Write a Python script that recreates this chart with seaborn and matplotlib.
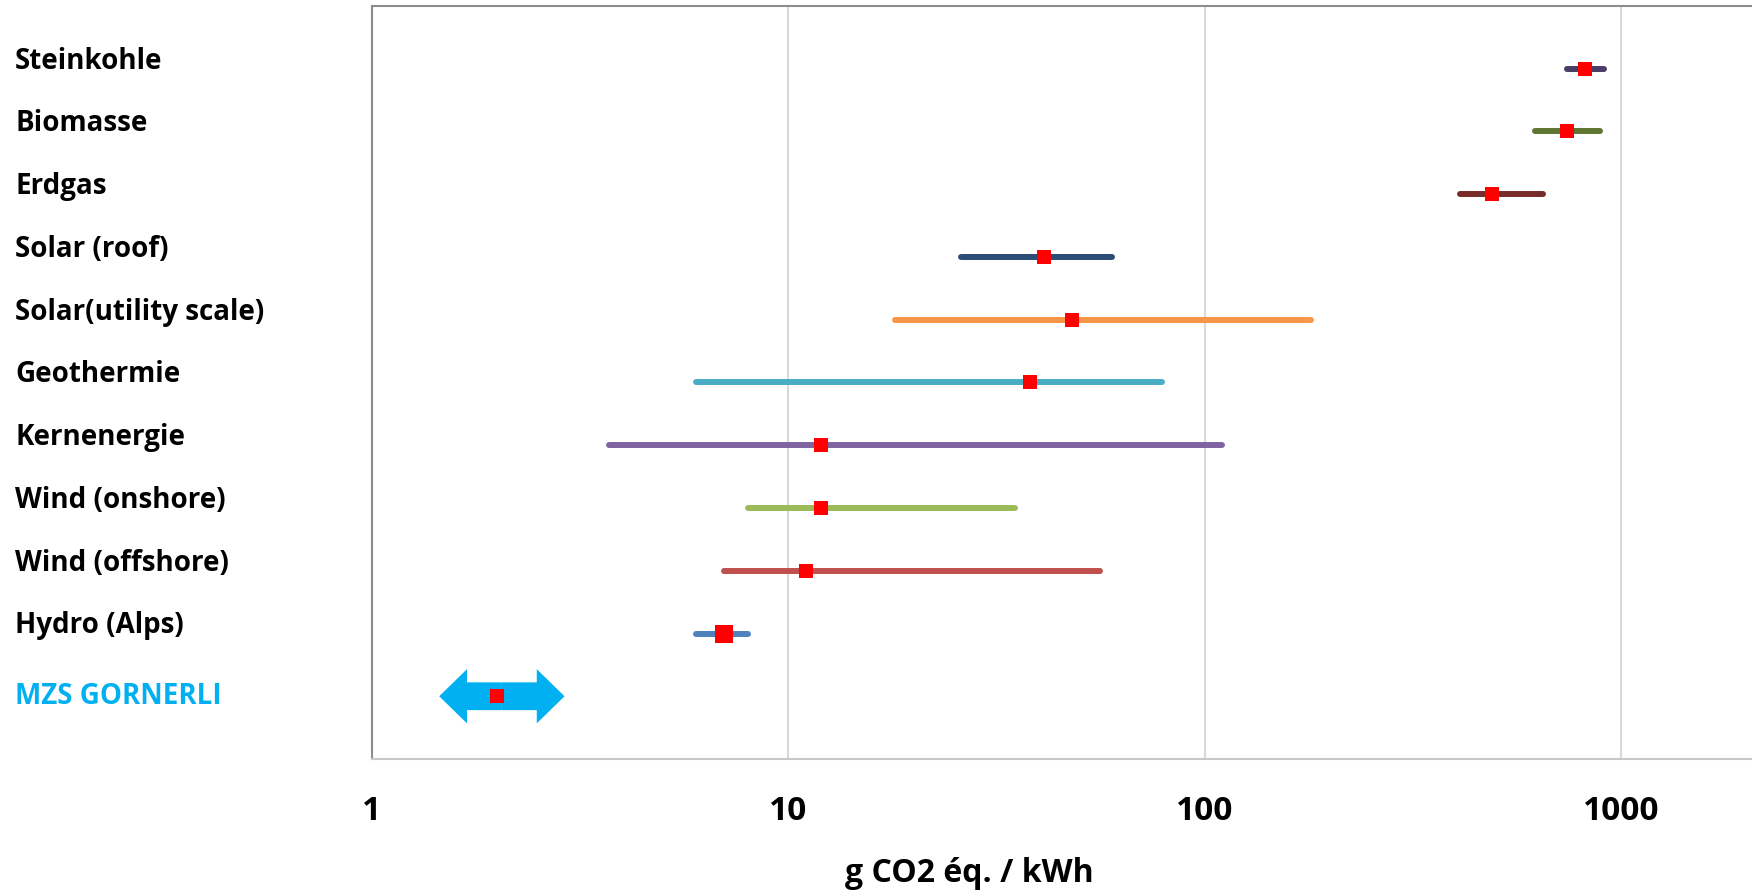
import numpy as np
import pandas as pd
import matplotlib.pyplot as plt
from matplotlib.patches import FancyArrowPatch
from matplotlib.ticker import NullLocator
import seaborn as sns

# Life-cycle emissions per source (g CO2 eq. / kWh), top to bottom
sources = ['Steinkohle', 'Biomasse', 'Erdgas', 'Solar (roof)', 'Solar(utility scale)',
           'Geothermie', 'Kernenergie', 'Wind (onshore)', 'Wind (offshore)',
           'Hydro (Alps)', 'MZS GORNERLI']
low = [740, 620, 410, 26, 18, 6.0, 3.7, 8.0, 7.0, 6.0, np.nan]
high = [910, 890, 650, 60, 180, 79, 110, 35, 56, 8.0, np.nan]
median = [820, 740, 490, 41, 48, 38, 12, 12, 11, 7.0, 2.0]
line_colors = ['#4B3D66', '#5F7532', '#772C2A', '#2C4D75', '#F79646',
               '#4BACC6', '#8064A2', '#9BBB59', '#C0504D', '#4F81BD', None]

tick_values = [1, 10, 100, 1000]
tick_labels = ['1', '10', '100', '1000']
x_label = 'g CO2 éq. / kWh'

highlight = 'MZS GORNERLI'
highlight_span = [1.45, 2.9]
big_marker = 'Hydro (Alps)'

sns.set_theme(style='white')
plt.rcParams['font.family'] = ['Open Sans', 'DejaVu Sans']

pos = np.arange(len(sources))
df = pd.DataFrame({'source': sources, 'pos': pos, 'low': low, 'high': high, 'median': median})
long_df = (df.melt(id_vars=['source', 'pos'], value_vars=['low', 'high'], value_name='value')
             .dropna(subset=['value']))
palette = {s: c for s, c in zip(sources, line_colors) if c is not None}

fig = plt.figure(figsize=(17.52, 8.92), dpi=100)
ax = fig.add_axes([372 / 1752, 133 / 892, 1380 / 1752, 753 / 892])
ax.set_xscale('log')

# range bars
sns.lineplot(data=long_df, x='value', y='pos', hue='source', palette=palette,
             estimator=None, sort=False, linewidth=4.3, solid_capstyle='round',
             legend=False, ax=ax, zorder=2)

# double arrow for the highlighted plant
y_hl = sources.index(highlight)
center = np.sqrt(highlight_span[0] * highlight_span[1])
for end in highlight_span:
    ax.add_patch(FancyArrowPatch((center, y_hl), (end, y_hl),
                                 arrowstyle='simple,head_length=20,head_width=39,tail_width=20',
                                 mutation_scale=1, color='#00B0F0', lw=0,
                                 shrinkA=0, shrinkB=0, zorder=3))

# median markers
sns.scatterplot(data=df[df.source != big_marker], x='median', y='pos', marker='s',
                color='#FF0000', s=92, linewidth=0, ax=ax, zorder=4)
sns.scatterplot(data=df[df.source == big_marker], x='median', y='pos', marker='s',
                color='#FF0000', s=150, linewidth=0, ax=ax, zorder=4)

ax.set_xlim(1, 2060)
ax.set_ylim(11, -1)
ax.set_xticks(tick_values, labels=tick_labels)
ax.xaxis.set_minor_locator(NullLocator())
ax.set_yticks(pos, labels=sources)
ax.grid(True, axis='x', which='major', color='#D9D9D9', linewidth=1.5)
ax.set_axisbelow(True)

for side in ['left', 'top']:
    ax.spines[side].set_color('#8C8C8C')
    ax.spines[side].set_linewidth(1.5)
ax.spines['bottom'].set_color('#C8C8C8')
ax.spines['bottom'].set_linewidth(1.5)
ax.spines['right'].set_visible(False)

ax.tick_params(axis='x', length=0, pad=26, labelsize=24, labelcolor='black')
ax.tick_params(axis='y', length=0, pad=257, labelsize=20, labelcolor='black')
for lbl in ax.get_xticklabels():
    lbl.set_fontweight('bold')
for lbl in ax.get_yticklabels():
    lbl.set_fontweight('bold')
    lbl.set_horizontalalignment('left')
    lbl.set_verticalalignment('baseline')
    if lbl.get_text() == highlight:
        lbl.set_color('#00B0F0')
        lbl.set_verticalalignment('center')

ax.set_ylabel('')
ax.set_xlabel(x_label, fontsize=23, fontweight='bold', color='black')
ax.xaxis.set_label_coords(0.4326, -0.130)

fig.savefig('out.png', dpi=100)
